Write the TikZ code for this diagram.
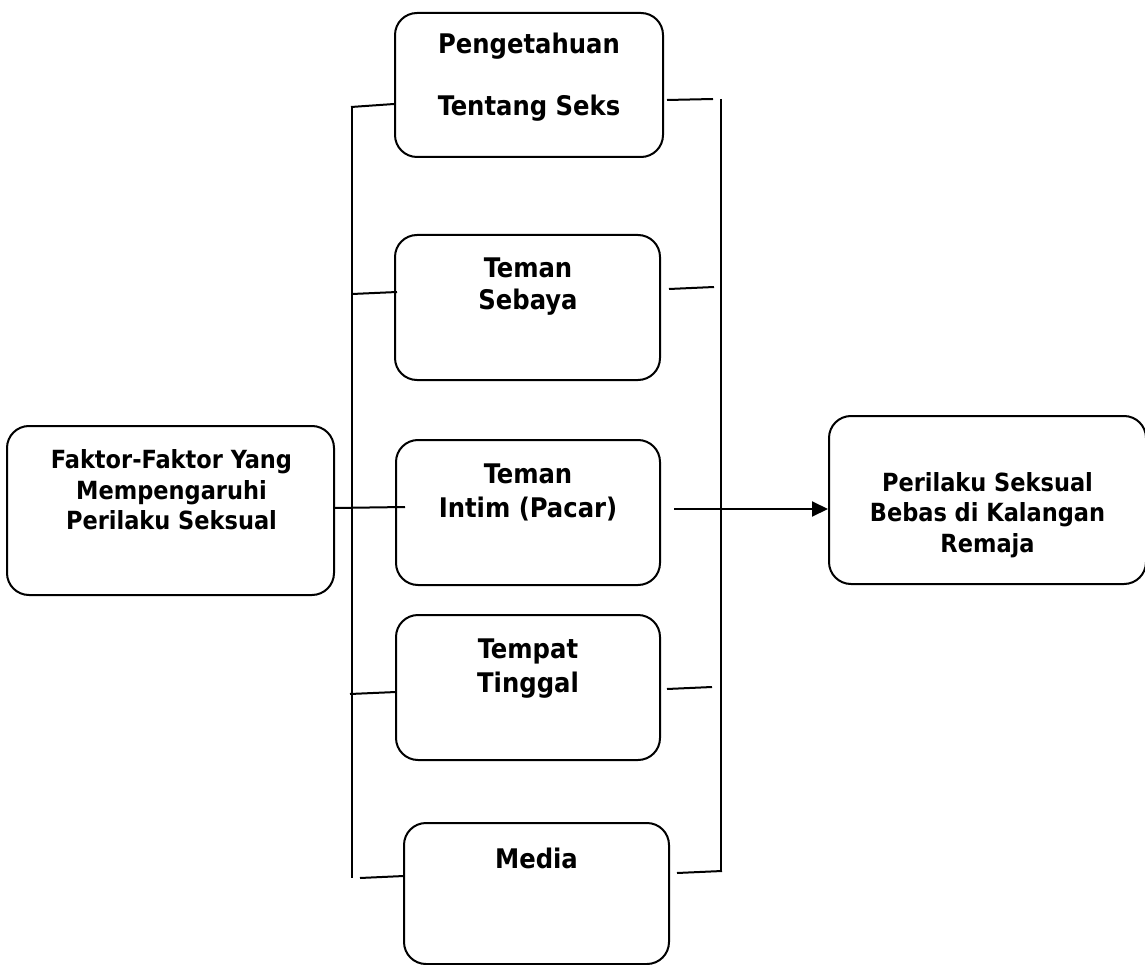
\documentclass[tikz,border=0pt]{standalone}
\usepackage{fontspec}
\setmainfont{DejaVu Sans Condensed}
\usetikzlibrary{arrows.meta}
\begin{document}
\begin{tikzpicture}[x=1pt,y=-1pt,
  box/.style={draw,line width=2pt,rounded corners=22pt,inner sep=0pt},
  big/.style={font=\fontsize{27}{30}\selectfont\bfseries,anchor=base,inner sep=0pt},
  small/.style={font=\fontsize{25}{28}\selectfont\bfseries,anchor=base,inner sep=0pt},
  ln/.style={line width=2pt}]
\useasboundingbox (0,0) rectangle (1145,965);

% boxes
\node[box,minimum width=268pt,minimum height=144pt] (b1) at (529,85) {};
\node[box,minimum width=265pt,minimum height=145pt] (b2) at (527.5,307.5) {};
\node[box,minimum width=264pt,minimum height=145pt] (b3) at (528,512.5) {};
\node[box,minimum width=264pt,minimum height=145pt] (b4) at (528,687.5) {};
\node[box,minimum width=265pt,minimum height=141pt] (b5) at (536.5,893.5) {};
\node[box,minimum width=327pt,minimum height=169pt] (fk) at (170.5,510.5) {};
\node[box,minimum width=317pt,minimum height=168pt] (pr) at (987.5,500) {};

% texts
\node[big] (t1a) at (529,54) {Pengetahuan};
\node[big] (t1b) at (529,116) {Tentang Seks};
\node[big] (t2a) at (528,278) {Teman};
\node[big] (t2b) at (528,310) {Sebaya};
\node[big] (t3a) at (528,483) {Teman};
\node[big] (t3b) at (528,517) {Intim (Pacar)};
\node[big] (t4a) at (528,658) {Tempat};
\node[big] (t4b) at (528,692) {Tinggal};
\node[big] (t5a) at (536.5,868) {Media};
\node[small] (fka) at (171.5,468) {Faktor-Faktor Yang};
\node[small] (fkb) at (171.5,499) {Mempengaruhi};
\node[small] (fkc) at (171.5,529) {Perilaku Seksual};
\node[small] (pra) at (987.5,491) {Perilaku Seksual};
\node[small] (prb) at (987.5,521) {Bebas di Kalangan};
\node[small] (prc) at (987.5,552) {Remaja};

% connector coordinates
\coordinate (lt) at (352,107);
\coordinate (lb) at (352,878);
\coordinate (rt) at (721,99);
\coordinate (rb) at (721,871);
\coordinate (l1a) at (351,107); \coordinate (l1b) at (394,104);
\coordinate (l2a) at (352,294); \coordinate (l2b) at (397,292);
\coordinate (l3a) at (334,508); \coordinate (l3b) at (405,507);
\coordinate (l4a) at (350,694); \coordinate (l4b) at (396,692);
\coordinate (l5a) at (360,878); \coordinate (l5b) at (404,876);
\coordinate (r1a) at (667,100); \coordinate (r1b) at (713,99);
\coordinate (r2a) at (669,289); \coordinate (r2b) at (714,287);
\coordinate (r4a) at (667,689); \coordinate (r4b) at (712,687);
\coordinate (r5a) at (677,873); \coordinate (r5b) at (722,871);
\coordinate (aa) at (674,509);

\draw[ln] (lt) -- (lb);
\draw[ln] (rt) -- (rb);
\draw[ln] (l1a) -- (l1b);
\draw[ln] (l2a) -- (l2b);
\draw[ln] (l3a) -- (l3b);
\draw[ln] (l4a) -- (l4b);
\draw[ln] (l5a) -- (l5b);
\draw[ln] (r1a) -- (r1b);
\draw[ln] (r2a) -- (r2b);
\draw[ln] (r4a) -- (r4b);
\draw[ln] (r5a) -- (r5b);
\draw[ln,-{Triangle[length=16pt,width=15pt]}] (aa) -- (aa -| pr.west);
\end{tikzpicture}
\end{document}
